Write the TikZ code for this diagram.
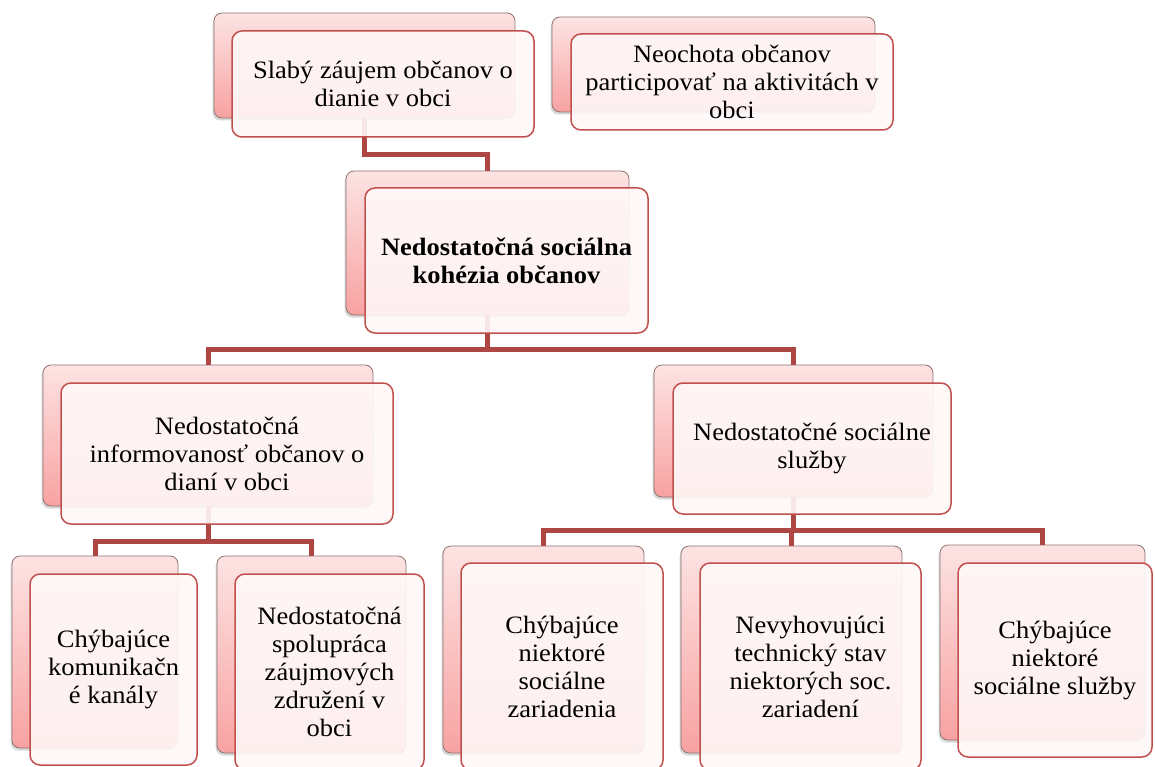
\documentclass[tikz,border=0pt]{standalone}
\usepackage{fontspec}
\setmainfont{Liberation Serif}[FakeStretch=1.06]
\usetikzlibrary{shadows}
\definecolor{edgered}{HTML}{C0504D}
\definecolor{connred}{HTML}{AE4644}
\definecolor{backedge}{HTML}{8E7272}
\definecolor{backtop}{HTML}{FDE3E3}
\definecolor{backbot}{HTML}{F8A2A2}
\definecolor{frontfill}{HTML}{FFF8F8}
\begin{document}
\begin{tikzpicture}[x=1pt,y=-1pt,
  backbox/.style={draw=backedge, line width=0.8pt, rounded corners=8pt,
    top color=backtop, bottom color=backbot, inner sep=0pt,
    drop shadow={shadow xshift=-1.5pt, shadow yshift=-2.5pt, opacity=0.3}},
  frontbox/.style={draw=edgered, line width=1.5pt, rounded corners=10pt,
    fill=frontfill, fill opacity=0.9, text opacity=1, align=center,
    inner sep=0pt, font=\fontsize{25}{28}\selectfont},
  conn/.style={draw=connred, line width=5pt, line join=miter}]
\useasboundingbox (0,0) rectangle (1155,767);
\clip (0,0) rectangle (1155,767);
\fill[white] (0,0) rectangle (1155,767);

% back boxes
\node[backbox, minimum width=301pt, minimum height=105pt] (b1) at (364.5,65.5) {};
\node[backbox, minimum width=323pt, minimum height=95pt]  (b2) at (713.5,64.5) {};
\node[backbox, minimum width=283pt, minimum height=144pt] (b3) at (487.5,243) {};
\node[backbox, minimum width=330pt, minimum height=141pt] (b4) at (208,435.5) {};
\node[backbox, minimum width=279pt, minimum height=132pt] (b5) at (793.5,431) {};
\node[backbox, minimum width=166pt, minimum height=192pt] (b6) at (95,652) {};
\node[backbox, minimum width=189pt, minimum height=197pt] (b7) at (311.5,654.5) {};
\node[backbox, minimum width=201pt, minimum height=207pt] (b8) at (543.5,649.5) {};
\node[backbox, minimum width=221pt, minimum height=207pt] (b9) at (791.5,649.5) {};
\node[backbox, minimum width=205pt, minimum height=195pt] (b10) at (1042.5,642.5) {};

% connectors
\draw[conn] (b1.south) -- (b1.south |- 0,155) -- (b3.north |- 0,155) -- (b3.north);
\draw[conn] (b3.south) -- (b3.south |- 0,349);
\draw[conn] (b4.north) -- (b4.north |- 0,349) -- (b5.north |- 0,349) -- (b5.north);
\draw[conn] (b4.south) -- (b4.south |- 0,541);
\draw[conn] (b6.north) -- (b6.north |- 0,541) -- (b7.north |- 0,541) -- (b7.north);
\draw[conn] (b5.south) -- (b5.south |- 0,530);
\draw[conn] (b8.north) -- (b8.north |- 0,530) -- (b10.north |- 0,530) -- (b10.north);
\draw[conn] (b9.north) -- (b9.north |- 0,530);

% front boxes
\node[frontbox, minimum width=302pt, minimum height=106pt] (f1) at (383,84)
  {Slabý záujem občanov o\\dianie v obci};
\node[frontbox, minimum width=322pt, minimum height=96pt] (f2) at (732,82)
  {Neochota občanov\\participovať na aktivitách v\\obci};
\node[frontbox, minimum width=283pt, minimum height=145pt, font=\fontsize{25}{28}\selectfont\bfseries] (f3) at (506.5,260.5)
  {Nedostatočná sociálna\\kohézia občanov};
\node[frontbox, minimum width=332pt, minimum height=141pt] (f4) at (227,453.5)
  {Nedostatočná\\informovanosť občanov o\\dianí v obci};
\node[frontbox, minimum width=278pt, minimum height=131pt] (f5) at (812,448.5)
  {Nedostatočné sociálne\\služby};
\node[frontbox, minimum width=167pt, minimum height=191pt] (f6) at (113.5,669.5)
  {Chýbajúce\\komunikačn\\é kanály};
\node[frontbox, minimum width=189pt, minimum height=196pt] (f7) at (329.5,672)
  {Nedostatočná\\spolupráca\\záujmových\\združení v\\obci};
\node[frontbox, minimum width=202pt, minimum height=207pt] (f8) at (562,666.5)
  {Chýbajúce\\niektoré\\sociálne\\zariadenia};
\node[frontbox, minimum width=221pt, minimum height=207pt] (f9) at (810.5,666.5)
  {Nevyhovujúci\\technický stav\\niektorých soc.\\zariadení};
\node[frontbox, minimum width=194pt, minimum height=194pt] (f10) at (1055,660)
  {Chýbajúce\\niektoré\\sociálne služby};
\end{tikzpicture}
\end{document}
